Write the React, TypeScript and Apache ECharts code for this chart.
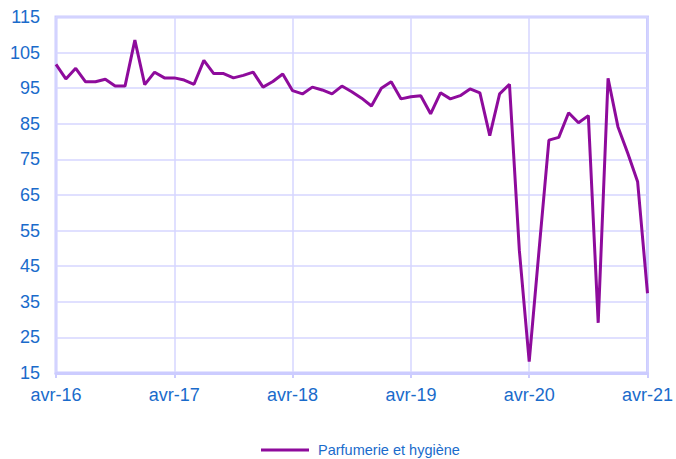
import React, { useEffect, useRef } from "react";
import * as echarts from "echarts";

const monthNames = ["avr", "mai", "juin", "juil", "août", "sept", "oct", "nov", "déc", "janv", "févr", "mars"];
const startYear = 16;
const monthCount = 61;
const categories: string[] = [];
for (let i = 0; i < monthCount; i++) {
  const m = i % 12;
  const yr = startYear + Math.floor(i / 12) + (m >= 9 ? 1 : 0);
  categories.push(`${monthNames[m]}-${yr}`);
}

const seriesName = "Parfumerie et hygiène";
const values = [
  101.7, 97.6, 100.6, 96.8, 96.8, 97.5, 95.6, 95.6, 108.5, 96.0, 99.5, 97.9,
  97.9, 97.3, 96.1, 102.8, 99.1, 99.1, 97.9, 98.6, 99.5, 95.3, 96.9, 99.0,
  94.3, 93.4, 95.3, 94.5, 93.4, 95.6, 94.0, 92.2, 90.0, 95.0, 96.8, 92.0,
  92.6, 92.9, 87.8, 93.7, 92.0, 92.9, 94.8, 93.7, 81.7, 93.4, 96.1, 49.5,
  18.2, 49.5, 80.4, 81.2, 88.1, 85.3, 87.3, 29.1, 97.8, 84.2, 76.7, 68.7,
  37.4,
];

const yMin = 15;
const yMax = 115;
const yStep = 10;

export default function App() {
  const ref = useRef<HTMLDivElement>(null);
  useEffect(() => {
    if (!ref.current) return;
    const chart = echarts.init(ref.current, null, { renderer: "svg" });
    const labelColor = "#1A6BCB";
    const font = "'Liberation Sans', Arial, sans-serif";
    chart.setOption({
      animation: false,
      backgroundColor: "#ffffff",
      grid: {
        left: 56,
        right: 28,
        top: 17,
        bottom: 86,
        show: true,
        borderColor: "#CCCCFF",
        borderWidth: 3,
        containLabel: false,
      },
      legend: {
        top: 442,
        left: 261,
        icon: "rect",
        itemWidth: 48,
        itemHeight: 3,
        itemGap: 10,
        padding: 0,
        textStyle: { color: labelColor, fontSize: 14.5, fontFamily: font, lineHeight: 16, padding: [0, 0, 0, 4] },
        data: [seriesName],
      },
      xAxis: {
        type: "category",
        data: categories,
        boundaryGap: false,
        axisLine: { show: true, lineStyle: { color: "#CCCCFF", width: 3 } },
        axisTick: {
          show: true,
          interval: 11,
          length: 5,
          lineStyle: { color: "#CCCCFF", width: 2 },
        },
        axisLabel: {
          interval: 11,
          color: labelColor,
          fontSize: 18,
          fontFamily: font,
          margin: 13,
          showMaxLabel: true,
        },
        splitLine: {
          show: true,
          interval: 11,
          lineStyle: { color: "#D6D6FF", width: 1.5 },
        },
      },
      yAxis: {
        type: "value",
        min: yMin,
        max: yMax,
        interval: yStep,
        axisLine: { show: false },
        axisTick: { show: false },
        axisLabel: {
          color: labelColor,
          fontSize: 18,
          fontFamily: font,
          margin: 16,
        },
        splitLine: { lineStyle: { color: "#D6D6FF", width: 1.5 } },
      },
      series: [
        {
          name: seriesName,
          type: "line",
          data: values,
          showSymbol: false,
          symbol: "none",
          lineStyle: { color: "#8E0B9C", width: 3 },
          itemStyle: { color: "#8E0B9C" },
        },
      ],
    });
    return () => chart.dispose();
  }, []);
  return (
    <div
      ref={ref}
      style={{ position: "absolute", left: 0, top: 0, width: 676, height: 459 }}
    />
  );
}
